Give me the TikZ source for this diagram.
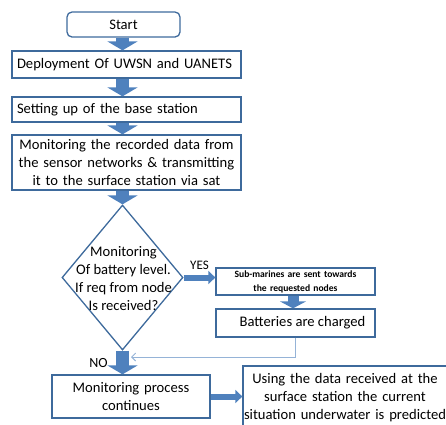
\documentclass[tikz,border=0pt]{standalone}
\usepackage{fontspec}
\setmainfont{Carlito}
\usepackage{tikz}
\usetikzlibrary{shapes, positioning, arrows.meta}

\definecolor{boxblue}{HTML}{3E6A9C}
\definecolor{fillblue}{HTML}{4F81BD}
\definecolor{lineblue}{HTML}{95B3D7}

\tikzset{
    box/.style={draw=boxblue, line width=1.3pt, inner sep=0pt, font=\fontsize{14.6}{18}\selectfont},
    decision/.style={diamond, draw=boxblue, line width=1.3pt, inner sep=0pt},
    bigarrow/.style={fillblue, line width=13pt, -{Triangle[length=9pt, width=30pt]}},
    smallarrow/.style={fillblue, line width=11pt, -{Triangle[length=7pt, width=26pt]}},
    sidearrow/.style={fillblue, line width=6pt, -{Triangle[length=7pt, width=13pt]}},
    backline/.style={draw=lineblue, line width=0.9pt, -{Straight Barb[length=4pt, width=8pt]}},
    lbl/.style={text=black, font=\fontsize{14}{18}\selectfont}
}

\begin{document}
\begin{tikzpicture}[x=1pt, y=-1pt]
        \useasboundingbox (0,0) rectangle (446,424);

        \node[box, rounded corners=5pt, minimum width=113, minimum height=25] (start) at (123.5, 24.5) {Start};
        \node[box, minimum width=229, minimum height=27, text width=219, align=left] (deploy) at (126.5, 64.5) {Deployment Of UWSN and UANETS};
        \node[box, minimum width=229, minimum height=25, text width=219, align=left] (setup) at (126.5, 109.5) {Setting up of the base station};
        \node[box, minimum width=229, minimum height=55, text width=229, align=center] (monitor) at (126.5, 162.5) {Monitoring the recorded data from\\the sensor networks \& transmitting\\it to the surface station via sat};

        \node[decision, minimum width=121, minimum height=145] (dec) at (122.5, 277.5) {};
        \node[font=\fontsize{14.6}{18}\selectfont, align=center, inner sep=0pt] (dectext) at (123.5, 278.5) {Monitoring\\Of battery level.\\If req from node\\Is received?};

        \node[box, minimum width=159, minimum height=27, text width=159, align=center, font=\fontsize{9.6}{14}\selectfont\bfseries] (sub) at (295.5, 281.5) {Sub-marines are sent towards\\the requested nodes};
        \node[box, minimum width=159, minimum height=28] (batt) at (295.5, 323) {\hspace*{14pt}Batteries are charged};

        \node[box, minimum width=158, minimum height=43, text width=158, align=center] (proc) at (131, 396.5) {Monitoring process\\continues};
        \node[box, minimum width=200, minimum height=64, text width=204, align=center] (using) at (345, 398) {Using the data received at the\\surface station the current\\situation underwater is predicted};

        \coordinate (ret) at (131, 357);

        \draw[bigarrow] (start.south -| dec) -- (deploy.north -| dec);
        \draw[bigarrow] (deploy.south -| dec) -- (setup.north -| dec);
        \draw[bigarrow] (setup.south -| dec) -- (monitor.north -| dec);
        \draw[bigarrow] (monitor.south -| dec) -- (dec.north);
        \draw[bigarrow] (dec.south) to node[pos=0.5, left=5pt, lbl] {NO} (dec.south |- proc.north);

        \draw[sidearrow] (dec.east) to node[midway, above=2pt, lbl, font=\fontsize{13}{16}\selectfont] {YES} (dec.east -| sub.west);
        \draw[smallarrow] (sub.south -| 293,0) -- (batt.north -| 293,0);
        \draw[sidearrow] (proc.east) -- (proc.east -| using.west);

        \draw[backline] (batt.south) |- (ret);
    \end{tikzpicture}
\end{document}
